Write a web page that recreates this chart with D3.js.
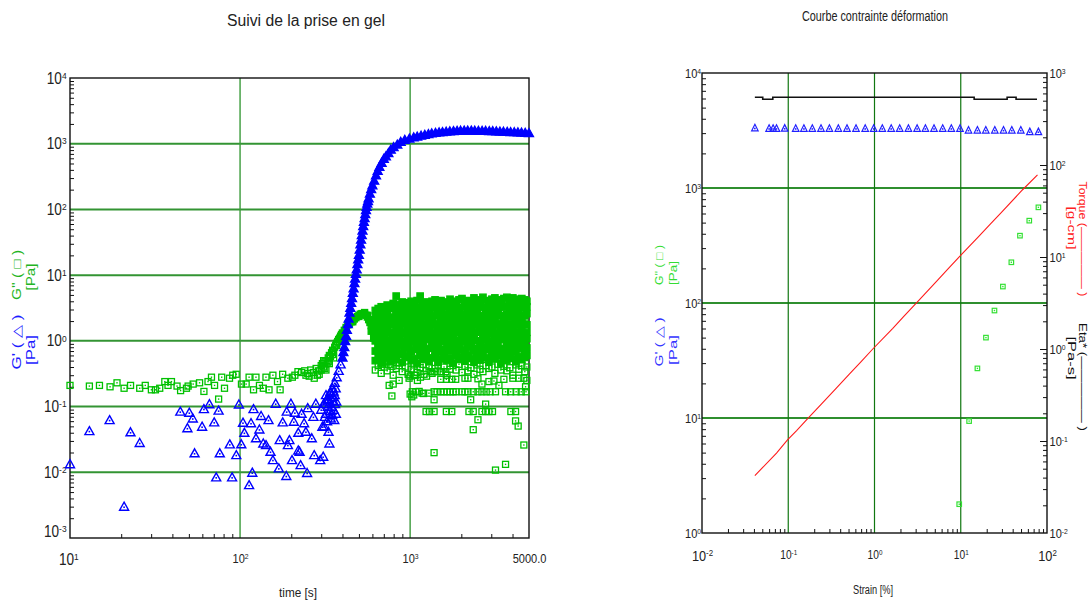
<!DOCTYPE html>
<html><head><meta charset="utf-8">
<script src="https://cdn.jsdelivr.net/npm/d3@7"></script>
<style>
body{margin:0;background:#fff}
svg{display:block}
text{font-family:"Liberation Sans Narrow","Arial Narrow","Liberation Sans",Arial,sans-serif;fill:#222}
</style>
</head><body>
<svg id="c" width="1091" height="601"></svg>
<script>
// ---------------- DATA : left chart (gel time sweep) ----------------
const leftTitle = "Suivi de la prise en gel";
const leftXLabel = "time [s]";
const leftXTicks = [10, 100, 1000, 5000];
const leftYTicks = [1e-3, 1e-2, 1e-1, 1, 10, 100, 1000, 1e4];

// G' (blue triangles) – early noisy points [time s, Pa]
const gpScatter = [[10,0.0133],[13,0.0425],[17.1,0.0625],[20.8,0.003],[22.7,0.0407],[25.7,0.028],
[44.5,0.084],[49,0.047],[50.3,0.081],[52.7,0.066],[54,0.0195],[59.8,0.0495],[61.3,0.092],[66,0.109],[70.5,0.0577],[72.4,0.0084],
[74.8,0.087],[76,0.0195],[87,0.0267],[89.8,0.0084],[95,0.0183],[98.5,0.108],[101.7,0.0268],[104,0.057],[106,0.040],[113,0.0064],
[116,0.056],[118,0.0099],[120,0.092],[124,0.033],[130,0.045],[133,0.072],[137,0.0275],[142,0.026],[147,0.0625],[151,0.0206],
[156,0.0154],[162,0.111],[169,0.0115],[171,0.031],[178,0.0577],[187,0.0088],[188,0.084],[191,0.026],[195,0.031],[199,0.111],
[202,0.0154],[207,0.059],[210,0.081],[220,0.040],[220,0.0215],[224,0.0206],[227,0.0129],[230,0.078],[238,0.056],[244,0.0415],
[248,0.0098],[250,0.095],[264,0.033],[270,0.070],[273,0.0183],[279,0.111],[296,0.0154],[305,0.0495],[308,0.0173],[320,0.15],
[320,0.078],[331,0.0415],[335,0.0275],[342,0.066],[350,0.12],[358,0.0625],[366,0.078],
[300,0.09],[310,0.11],[315,0.07],[318,0.12],[325,0.06],[328,0.1],[338,0.085],[345,0.1],[352,0.14],[355,0.09],[362,0.11],
[325,0.13],[312,0.05],[333,0.13],[347,0.075],[360,0.15],[368,0.12],[340,0.17],[355,0.17],[365,0.19]];

// G' – gelation curve and plateau
const gpCurve = [[330,0.125],[340,0.16],[350,0.19],[360,0.23],[370,0.28],[380,0.35],[390,0.44],[400,0.56],[405,0.68],[410,0.81],
[415,1.0],[420,1.2],[425,1.48],[430,1.8],[435,2.2],[440,2.7],[445,3.2],[450,3.8],[455,4.5],[460,5.4],[465,6.3],[470,7.6],
[475,8.9],[480,10.5],[485,12.3],[490,14.8],[495,17.4],[500,20.4],[505,24.5],[510,29.5],[515,34.7],[520,40.7],[525,47.9],
[530,56],[535,65],[540,74],[545,85],[550,98],[555,110],[560,123],[565,135],[570,148],[580,174],[590,204],[600,234],
[615,275],[630,331],[645,389],[660,447],[680,513],[700,589],[720,646],[745,724],[770,813],[800,891],[840,977],[880,1070],
[930,1150],[990,1200],[1050,1250],[1100,1290],[1160,1330],[1220,1370],[1280,1410],[1340,1440],[1410,1470],[1480,1490],
[1550,1510],[1630,1530],[1710,1550],[1800,1560],[1890,1575],[1980,1585],[2080,1590],[2180,1590],[2290,1590],[2400,1585],
[2520,1580],[2650,1575],[2780,1570],[2920,1565],[3060,1560],[3210,1550],[3370,1540],[3540,1530],[3720,1520],[3900,1510],
[4100,1500],[4300,1490],[4520,1480],[4750,1470],[5000,1460]];

// G'' (green squares) – before gelation
const gppEarly = [[10,0.21],[13,0.205],[14.9,0.21],[17.2,0.2],[18.9,0.23],[20.8,0.19],[22.7,0.21],[25.7,0.19],[27.7,0.21],
[30.1,0.18],[31.8,0.18],[33.7,0.19],[36.1,0.24],[37.7,0.21],[39.5,0.24],[42.6,0.205],[44.7,0.175],[48.4,0.19],[49.5,0.205],
[53,0.22],[57.8,0.23],[61.3,0.17],[64.8,0.24],[67.9,0.28],[70.8,0.21],[74.8,0.13],[78,0.28],[81,0.19],[86.7,0.27],[90.6,0.3],
[94.9,0.31],[101.9,0.22],[108.6,0.22],[113,0.28],[120,0.18],[124,0.28],[130,0.21],[137,0.19],[142,0.28],[148,0.18],[156,0.3],
[166,0.24],[172,0.18],[178,0.31],[191,0.27],[203,0.28],[219,0.34],[244,0.3],[273,0.27],[292,0.31],[320,0.36],
[210,0.3],[230,0.33],[240,0.35],[250,0.32],[260,0.36],[270,0.33],[280,0.38],[290,0.35],[255,0.29],[285,0.3]];

// G'' – crossover region and peak
const gppPeak = [[300,0.42],[305,0.45],[310,0.4],[315,0.48],[320,0.5],[325,0.46],[330,0.55],[335,0.6],[340,0.58],[345,0.66],
[350,0.72],[355,0.7],[360,0.8],[365,0.86],[370,0.92],[375,0.98],[380,1.05],[385,1.1],[390,1.18],[395,1.25],[400,1.32],
[410,1.45],[420,1.6],[430,1.75],[440,1.85],[450,1.95],[460,2.05],[470,2.15],[480,2.25],[490,2.35],[500,2.45],[510,2.55],
[520,2.6],[530,2.6],[540,2.55],[550,2.45],[560,2.3],[570,2.1],[580,1.9],[590,1.7],[600,1.5],[610,1.3],[620,1.15],
[310,0.5],[330,0.48],[350,0.62],[370,0.85],[390,1.08],[420,1.5],[460,1.95],[500,2.35],[540,2.7],[560,2.45],[580,2.1],
[600,1.8],[590,1.4],[610,1.1],[300,0.36],[315,0.38],[335,0.45],[355,0.55]];

// G'' – noisy gel band after gelation: sample times and value rows
const bandT = [624,649,676,704,733,763,795,828,862,898,935,973,1014,1056,1099,1145,1192,1241,1292,1346,1401,1459,1520,
1583,1648,1716,1787,1861,1938,2018,2101,2188,2279,2373,2472,2574,2680,2791,2906,3026,3151,3282,3417,3559,3706,3859,
4018,4184,4357,4537,4725,4856];
const bandR1 = [2.9,3.1,3.3,3.2,3.5,3.4,3.7,4.8,3.6,3.9, 3.5,3.8,4.0,3.7,4.1,4.8,3.8,3.9,3.6,4.0, 4.2,3.8,4.1,3.9,3.7,4.3,4.0,3.8,4.2,4.4,
 3.9,4.1,3.8,4.5,4.0,4.2,4.6,4.1,3.9,4.3, 4.5,4.2,4.0,4.4,4.6,4.2,4.5,4.3,4.1,4.4, 4.2,4.0];
const bandR2 = [2.4,2.7,2.9,3.0,2.8,3.1,3.2,2.9,3.3,3.0, 3.2,2.8,3.1,3.3,2.9,3.2,3.0,3.4,2.8,3.1, 3.3,3.0,2.9,3.2,3.4,3.1,2.8,3.3,3.0,3.2,
 3.4,2.9,3.1,3.3,3.0,3.5,3.2,2.9,3.4,3.1, 3.3,3.0,3.5,3.2,3.4,3.0,3.3,3.5,3.1,3.4, 3.2,3.3];
const bandR3 = [2.0,2.2,2.4,2.1,2.5,2.3,2.2,2.6,2.4,2.1, 2.5,2.3,2.2,2.6,2.4,2.1,2.5,2.3,2.6,2.2, 2.4,2.6,2.3,2.1,2.5,2.4,2.2,2.6,2.3,2.5,
 2.2,2.4,2.6,2.3,2.5,2.1,2.4,2.6,2.2,2.5, 2.3,2.6,2.4,2.2,2.5,2.3,2.6,2.4,2.5,2.2, 2.4,2.6];
const bandR4 = [1.6,1.8,1.7,1.9,1.65,1.85,1.75,1.95,1.6,1.8, 1.9,1.7,1.85,1.6,1.95,1.75,1.8,1.65,1.9,1.7, 1.85,1.6,1.95,1.75,1.8,1.9,1.65,1.85,1.7,1.95,
 1.6,1.8,1.9,1.7,1.85,1.65,1.95,1.75,1.8,1.9, 1.7,1.85,1.6,1.95,1.75,1.8,1.65,1.9,1.7,1.85, 1.8,1.75];
const bandR5 = [1.3,1.2,1.4,1.25,1.45,1.35,1.3,1.5,1.2,1.4, 1.3,1.45,1.25,1.35,1.5,1.2,1.4,1.3,1.45,1.25, 1.35,1.5,1.2,1.4,1.3,1.45,1.25,1.35,1.5,1.3,
 1.4,1.2,1.45,1.3,1.35,1.5,1.25,1.4,1.3,1.45, 1.2,1.35,1.5,1.3,1.4,1.25,1.45,1.35,1.3,1.4, 1.25,1.35];
const bandR6 = [1.0,0.9,1.1,0.95,1.05,0.92,1.12,0.98,1.08,0.9, 1.02,1.15,0.94,1.06,0.9,1.1,0.97,1.04,1.13,0.93, 1.07,0.91,1.12,0.99,1.05,0.95,1.1,0.92,1.03,1.14,
 0.96,1.08,0.9,1.11,1.0,0.94,1.06,1.13,0.97,1.02, 1.09,0.93,1.04,1.15,0.95,1.07,0.91,1.1,0.98,1.05, 0.96,1.08];
const bandR7 = [0.7,0.8,0.66,0.75,0.82,0.68,0.78,0.72,0.85,0.67, 0.76,0.81,0.69,0.74,0.84,0.7,0.79,0.66,0.77,0.83, 0.71,0.8,0.68,0.75,0.85,0.72,0.78,0.67,0.82,0.74,
 0.69,0.79,0.84,0.7,0.76,0.66,0.81,0.73,0.78,0.68, 0.83,0.71,0.77,0.65,0.8,0.74,0.85,0.69,0.76,0.82, 0.72,0.78];
const bandR8 = [0.5,0.58,0.46,0.55,0.6,0.48,0.57,0.52,0.62,0.47, 0.56,0.6,0.5,0.54,0.45,0.59,0.52,0.61,0.48,0.55, 0.58,0.47,0.53,0.62,0.5,0.56,0.46,0.6,0.52,0.57,
 0.49,0.61,0.54,0.47,0.58,0.51,0.62,0.55,0.48,0.59, 0.53,0.6,0.46,0.57,0.5,0.62,0.54,0.48,0.58,0.52, 0.56,0.6];
const bandR9 = [0.36,0.42,0.32,0.4,0.35,0.44,0.3,0.38,0.42,0.34, 0.4,0.31,0.37,0.43,0.33,0.39,0.44,0.35,0.41,0.32, 0.38,0.43,0.34,0.4,0.3,0.37,0.42,0.36,0.44,0.33,
 0.41,0.35,0.39,0.31,0.43,0.37,0.34,0.42,0.38,0.4, 0.32,0.44,0.36,0.41,0.35,0.39,0.3,0.43,0.37,0.42, 0.34,0.4];

// G'' – lower scattered points after gelation
const gppLow = [[688,0.44],[753,0.21],[781,0.145],[781,0.41],[795,0.22],[862,0.46],[862,0.25],[986,0.27],[1104,0.25],
[1080,0.3],[1208,0.31],[1023,0.141],[1176,0.16],[1030,0.168],[1080,0.168],[1130,0.17],
[1323,0.34],[1383,0.34],[1440,0.34],[1514,0.34],[1620,0.34],
[1514,0.26],[1633,0.26],[1757,0.26],[1854,0.26],[2101,0.27],[2188,0.27],[2505,0.265],[2644,0.22],[2906,0.24],[3110,0.245],
[3328,0.21],[3559,0.26],[4018,0.27],[4357,0.27],[4664,0.27],[4856,0.25],[1000,0.29],[1060,0.3],[1150,0.28],[1250,0.29],
[1383,0.168],[1440,0.168],[1514,0.168],[1580,0.168],[1650,0.168],[1720,0.168],[1790,0.168],[1860,0.168],[2018,0.168],
[2101,0.168],[2188,0.168],[2350,0.168],[2505,0.168],[2644,0.168],[2800,0.168],[2950,0.168],[3177,0.168],[3640,0.168],
[3900,0.168],[4200,0.168],[4500,0.168],[4800,0.168],[1000,0.155],[1050,0.15],[1200,0.158],[1290,0.16],
[1241,0.084],[1300,0.084],[1383,0.084],[1633,0.084],[1757,0.084],[2218,0.084],[2350,0.084],[2644,0.084],[2780,0.084],
[2906,0.084],[3050,0.084],[3912,0.084],[4169,0.084],
[1383,0.127],[2270,0.127],[2780,0.109],[2505,0.063],[2350,0.0445],[4169,0.0605],[4318,0.0505],[4664,0.026],[1383,0.0199],
[3177,0.0108],[3640,0.0132],[4772,0.2]];

// ---------------- DATA : right chart (strain sweep) ----------------
const rightTitle = "Courbe contrainte déformation";
const rightXLabel = "Strain [%]";
const rightXTicks = [0.01, 0.1, 1, 10, 100];
const rightYLeftTicks = [1, 10, 100, 1000, 1e4];
const rightYRightTicks = [0.01, 0.1, 1, 10, 100, 1000];

const strainGp = [0.041,0.06,0.0667,0.073,0.091,0.122,0.152,0.19,0.24,0.30,0.38,0.48,0.61,0.78,0.98,1.23,1.56,1.96,
2.47,3.12,3.89,4.9,6.17,7.77,9.8,12.3,15.6,19.5,24.8,31.3,39.1,49.7,63.1,79.4];
const gpValues = [3330,3300,3300,3300,3310,3300,3300,3300,3300,3300,3300,3300,3300,3300,3300,3300,3300,3300,
3300,3300,3300,3300,3300,3300,3300,3190,3190,3190,3190,3190,3190,3190,3090,3090];
const strainGpp = [9.6,12.5,15.6,19.6,24.6,30.8,38.6,48.6,62.3,79.5];
const gppValues = [1.78,9.4,27,50,86,139,226,385,520,679];
const torque = [[0.041,0.042],[0.05,0.051],[0.0731,0.074],[0.098,0.103],[0.125,0.13],[0.169,0.176],[0.242,0.252],
[0.361,0.375],[0.514,0.535],[0.7,0.73],[0.955,1.0],[1.63,1.68],[2.2,2.28],[3.03,3.14],[5.17,5.35],[7.3,7.6],[9.97,10.4],
[16.4,17.0],[22,22.8],[30.4,31.4],[51.8,53.5],[77.6,78]];
const eta = [[0.041,545],[0.0506,518],[0.0662,545],[14.3,518],[34.5,545],[43.8,518],[76.6,518]];

// ---------------- DRAWING ----------------
const svg = d3.select('#c');
const NARROW = '"Liberation Sans Narrow","Arial Narrow","Liberation Sans",Arial,sans-serif';
const REG = '"Liberation Sans",Arial,sans-serif';

const xL = d3.scaleLog().domain([10, 5000]).range([70, 529]);
const yL = d3.scaleLog().domain([1e-3, 1e4]).range([538, 78]);
const xR = d3.scaleLog().domain([0.01, 100]).range([702, 1047]);
const yRL = d3.scaleLog().domain([1, 1e4]).range([533, 73]);
const yRR = d3.scaleLog().domain([0.01, 1000]).range([533, 73]);

function minors(lo, hi, max) {
  const a = [];
  for (let e = lo; e < hi; e++) for (let m = 2; m < 10; m++) { const v = m * Math.pow(10, e); if (!max || v < max) a.push(v); }
  return a;
}
function expOf(d) { return Math.round(Math.log10(d)); }
function supify(sel, sizeFn) {
  sel.selectAll('.tick text').each(function (d) {
    const t = d3.select(this);
    t.text(null).attr('font-family', NARROW).attr('font-size', sizeFn(d)).attr('fill', '#222')
      .attr('transform', 'scale(0.85,1)');
    if (d === 5000) { t.text('5000.0'); return; }
    t.append('tspan').text('10');
    const e = expOf(d);
    t.append('tspan').attr('dy', '-0.5em').attr('font-size', '0.62em').text(e < 0 ? '-' + (-e) : String(e));
  });
}
function cleanAxis(g) { g.select('.domain').remove(); g.selectAll('.tick line').attr('stroke', '#111'); }

// markers
function triangles(g, data, x, y, w, h, color, sw, fill) {
  const gg = g.append('g');
  gg.selectAll(null).data(data).join('path')
    .attr('transform', d => `translate(${x(d[0]).toFixed(1)},${y(d[1]).toFixed(1)})`)
    .attr('d', `M0,${-h * 0.55}L${w / 2},${h * 0.45}L${-w / 2},${h * 0.45}Z`)
    .attr('fill', fill || 'none').attr('stroke', color).attr('stroke-width', sw);
  if (!fill) gg.selectAll(null).data(data).join('rect')
    .attr('x', d => x(d[0]) - 0.8).attr('y', d => y(d[1]) - 0.2).attr('width', 1.6).attr('height', 1.6)
    .attr('fill', color);
}
function squares(g, data, x, y, s, color, sw, fill) {
  const gg = g.append('g');
  gg.selectAll(null).data(data).join('rect')
    .attr('x', d => x(d[0]) - s / 2).attr('y', d => y(d[1]) - s / 2).attr('width', s).attr('height', s)
    .attr('fill', fill || 'none').attr('stroke', color).attr('stroke-width', sw);
  if (!fill) gg.selectAll(null).data(data).join('rect')
    .attr('x', d => x(d[0]) - 0.7).attr('y', d => y(d[1]) - 0.7).attr('width', 1.4).attr('height', 1.4)
    .attr('fill', color);
}
function vlabel(g, x, y, rot, text, color, size, len) {
  const t = g.append('text').attr('transform', `translate(${x},${y}) rotate(${rot})`)
    .attr('text-anchor', 'middle').attr('font-family', REG).attr('font-size', size)
    .style('fill', color).text(text);
  if (len) t.attr('textLength', len).attr('lengthAdjust', 'spacingAndGlyphs');
}

// ===== Left chart =====
const L = svg.append('g');
L.selectAll(null).data([1e-2, 1e-1, 1, 10, 100, 1000]).join('line')
  .attr('x1', 70).attr('x2', 529).attr('y1', d => yL(d)).attr('y2', d => yL(d))
  .attr('stroke', '#339433').attr('stroke-width', 2);
L.selectAll(null).data([100, 1000]).join('line')
  .attr('x1', d => xL(d)).attr('x2', d => xL(d)).attr('y1', 78).attr('y2', 538)
  .attr('stroke', '#3a9a3a').attr('stroke-width', 1.4);
L.append('g').attr('transform', 'translate(70,0)').call(d3.axisLeft(yL).tickValues(minors(-3, 4)).tickSize(-4).tickFormat('')).call(cleanAxis);
L.append('g').attr('transform', 'translate(0,538)').call(d3.axisBottom(xL).tickValues(minors(1, 4, 5000)).tickSize(-4).tickFormat('')).call(cleanAxis);
const lyAx = L.append('g').attr('transform', 'translate(70,0)').call(d3.axisLeft(yL).tickValues(leftYTicks).tickSize(0).tickPadding(4));
cleanAxis(lyAx); supify(lyAx, () => 16);
lyAx.selectAll('.tick text').filter(d => d === 1e-3).attr('dy', '-0.1em');
const lxAx = L.append('g').attr('transform', 'translate(0,538)').call(d3.axisBottom(xL).tickValues(leftXTicks).tickSize(0).tickPadding(16));
cleanAxis(lxAx); supify(lxAx, d => d === 10 ? 16 : 13);
lxAx.selectAll('.tick text').filter(d => d === 10).attr('dx', -2);
L.append('rect').attr('x', 70).attr('y', 78).attr('width', 459).attr('height', 460)
  .attr('fill', 'none').attr('stroke', '#111').attr('stroke-width', 1.4);

const GREEN = '#00c000', BLUE = '#0000ff';
const bandCore = [], bandFringe = [];
[bandR1, bandR2, bandR3, bandR4, bandR5, bandR6, bandR7, bandR8].forEach(r =>
  r.forEach((v, i) => { if (i < bandT.length) bandCore.push([bandT[i], v]); }));
bandR9.forEach((v, i) => { if (i < bandT.length) bandFringe.push([bandT[i], v]); });

squares(L, gppEarly, xL, yL, 6, GREEN, 1.3);
squares(L, gppPeak.filter(d => d[0] < 380), xL, yL, 6, GREEN, 1.3);
squares(L, gppPeak.filter(d => d[0] >= 380), xL, yL, 6, GREEN, 1.3, GREEN);
squares(L, bandFringe, xL, yL, 6, GREEN, 1.3);
squares(L, gppLow, xL, yL, 6, GREEN, 1.3);
squares(L, bandCore, xL, yL, 6.4, GREEN, 1.3, GREEN);
triangles(L, gpScatter, xL, yL, 9, 8, BLUE, 1.4);
triangles(L, gpCurve.filter(d => d[0] < 395), xL, yL, 9, 8, BLUE, 1.4);
triangles(L, gpCurve.filter(d => d[0] >= 395), xL, yL, 9, 8, BLUE, 1.3, BLUE);

L.append('text').attr('x', 306).attr('y', 26).attr('text-anchor', 'middle').attr('font-size', 16)
  .attr('font-family', NARROW).attr('textLength', 158).attr('lengthAdjust', 'spacingAndGlyphs').text(leftTitle);
L.append('text').attr('x', 298).attr('y', 597).attr('text-anchor', 'middle').attr('font-size', 13)
  .attr('font-family', NARROW).attr('textLength', 38).attr('lengthAdjust', 'spacingAndGlyphs').text(leftXLabel);

vlabel(L, 21, 275, -90, "G'' ( \u25A1 )", '#22b422', 12, 50);
vlabel(L, 35, 277, -90, "[Pa]", '#22b422', 12, 27);
vlabel(L, 21, 342, -90, "G' ( \u25B3 )", '#1c1cff', 12, 55);
vlabel(L, 35, 350, -90, "[Pa]", '#1c1cff', 12, 30);

// ===== Right chart =====
const R = svg.append('g');
R.selectAll(null).data([10, 100, 1000]).join('line')
  .attr('x1', 702).attr('x2', 1047).attr('y1', d => yRL(d)).attr('y2', d => yRL(d))
  .attr('stroke', '#2f8f2f').attr('stroke-width', 2);
R.selectAll(null).data([0.1, 1, 10]).join('line')
  .attr('x1', d => xR(d)).attr('x2', d => xR(d)).attr('y1', 73).attr('y2', 533)
  .attr('stroke', '#117711').attr('stroke-width', 1.2);
R.append('g').attr('transform', 'translate(702,0)').call(d3.axisLeft(yRL).tickValues(minors(0, 4)).tickSize(-4).tickFormat('')).call(cleanAxis);
R.append('g').attr('transform', 'translate(1047,0)').call(d3.axisRight(yRR).tickValues(minors(-2, 3)).tickSize(-4).tickFormat('')).call(cleanAxis);
R.append('g').attr('transform', 'translate(1047,0)').call(d3.axisRight(yRR).tickValues(rightYRightTicks.slice(1, -1)).tickSize(-7).tickFormat('')).call(cleanAxis);
R.append('g').attr('transform', 'translate(0,533)').call(d3.axisBottom(xR).tickValues(minors(-2, 2)).tickSize(-4).tickFormat('')).call(cleanAxis);

const ryAx = R.append('g').attr('transform', 'translate(702,0)').call(d3.axisLeft(yRL).tickValues(rightYLeftTicks).tickSize(0).tickPadding(1));
cleanAxis(ryAx); supify(ryAx, () => 13);
const rrAx = R.append('g').attr('transform', 'translate(1047,0)').call(d3.axisRight(yRR).tickValues(rightYRightTicks).tickSize(0).tickPadding(3));
cleanAxis(rrAx); supify(rrAx, () => 13);
const rxAx = R.append('g').attr('transform', 'translate(0,533)').call(d3.axisBottom(xR).tickValues(rightXTicks).tickSize(0).tickPadding(17));
cleanAxis(rxAx); supify(rxAx, d => (d === 0.01 || d === 100) ? 15 : 12);

R.append('rect').attr('x', 702).attr('y', 73).attr('width', 345).attr('height', 460)
  .attr('fill', 'none').attr('stroke', '#111').attr('stroke-width', 1.4);

R.append('path').datum(torque)
  .attr('d', d3.line().x(d => xR(d[0])).y(d => yRR(d[1])))
  .attr('fill', 'none').attr('stroke', '#ff1a1a').attr('stroke-width', 1.1);
R.append('path').datum(eta)
  .attr('d', d3.line().x(d => xR(d[0])).y(d => yRR(d[1])).curve(d3.curveStepAfter))
  .attr('fill', 'none').attr('stroke', '#111').attr('stroke-width', 1.6);
triangles(R, strainGp.map((s, i) => [s, gpValues[i]]), xR, yRL, 6.5, 6.5, '#2020ff', 1.2);
squares(R, strainGpp.map((s, i) => [s, gppValues[i]]), xR, yRL, 4.5, '#33e033', 1.2);

R.append('text').attr('x', 875).attr('y', 21).attr('text-anchor', 'middle').attr('font-size', 14)
  .attr('font-family', NARROW).attr('textLength', 146).attr('lengthAdjust', 'spacingAndGlyphs').text(rightTitle);
R.append('text').attr('x', 873).attr('y', 594).attr('text-anchor', 'middle').attr('font-size', 12)
  .attr('font-family', NARROW).attr('textLength', 40).attr('lengthAdjust', 'spacingAndGlyphs').text(rightXLabel);

vlabel(R, 663, 265, -90, "G'' ( \u25A1 )", '#33dd33', 11, 40);
vlabel(R, 677, 273, -90, "[Pa]", '#33dd33', 11, 24);
vlabel(R, 663, 342, -90, "G' ( \u25B3 )", '#3333ff', 11, 49);
vlabel(R, 677, 350, -90, "[Pa]", '#3333ff', 11, 30);
vlabel(R, 1079, 239, 90, "Torque (\u2014\u2014\u2014\u2014\u2014 )", '#ff2020', 11, 115);
vlabel(R, 1068, 228, 90, "[g-cm]", '#ff2020', 11, 43);
vlabel(R, 1079, 377, 90, "Eta* (\u2014\u2014\u2014\u2014\u2014 )", '#111', 11, 108);
vlabel(R, 1068, 358, 90, "[Pa-s]", '#111', 11, 43);
</script>
</body></html>
